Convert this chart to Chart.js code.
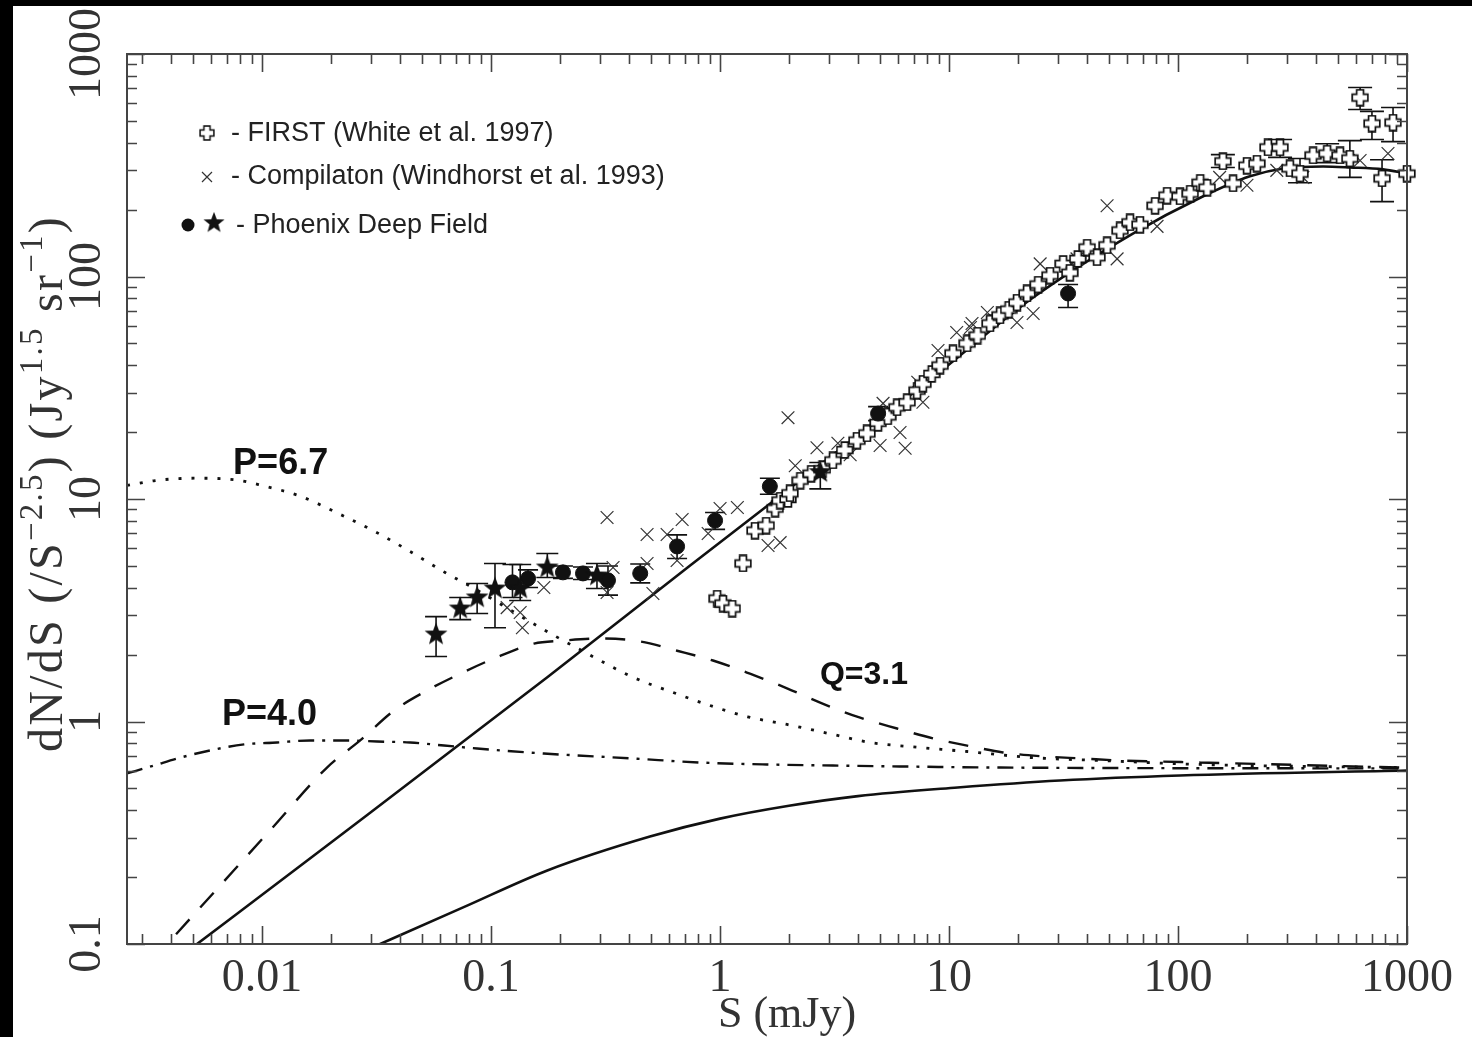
<!DOCTYPE html>
<html>
<head>
<meta charset="utf-8">
<script src="https://cdn.jsdelivr.net/npm/chart.js@4.4.1/dist/chart.umd.min.js"></script>
<style>
  html, body { margin: 0; padding: 0; background: #000; }
  #chart { display: block; }
</style>
</head>
<body>
<canvas id="chart" width="1472" height="1037"></canvas>
<script>
// ---- values ----
const xTickValues = [0.01, 0.1, 1, 10, 100, 1000];
const xTickLabels = ['0.01', '0.1', '1', '10', '100', '1000'];
const yTickValues = [0.1, 1, 10, 100, 1000];
const yTickLabels = ['0.1', '1', '10', '100', '1000'];

// model curves
const totalS = [0.0048, 0.02, 0.176, 0.74, 2.23, 8.5, 23.3, 63.5, 125, 206, 288, 430, 563, 785, 1000];
const totalN = [0.094, 0.286, 1.58, 5.02, 12.1, 35.2, 80.5, 156, 226, 282, 306, 312, 309, 303, 290];

const flatS = [0.025, 0.0755, 0.176, 0.494, 1.0, 2.0, 4.0, 10.9, 30.5, 102, 1000];
const flatN = [0.0885, 0.146, 0.214, 0.304, 0.366, 0.418, 0.462, 0.505, 0.543, 0.572, 0.602];

const q31S = [0.0033, 0.00385, 0.01083, 0.0192, 0.0268, 0.0377, 0.0526, 0.0733, 0.103, 0.154, 0.206, 0.299, 0.448, 0.649, 0.931, 1.35, 1.96, 2.82, 4.09, 5.93, 8.51, 12.7, 17.2, 25.7, 38.5, 55.8, 83.4, 125, 1000];
const q31N = [0.084, 0.1, 0.324, 0.621, 0.822, 1.12, 1.38, 1.64, 1.92, 2.24, 2.31, 2.36, 2.29, 2.08, 1.88, 1.64, 1.41, 1.20, 1.04, 0.93, 0.84, 0.77, 0.726, 0.697, 0.682, 0.668, 0.661, 0.654, 0.62];

const p67S = [0.00257, 0.00341, 0.0051, 0.00762, 0.01, 0.01466, 0.0215, 0.0311, 0.0443, 0.063, 0.0802, 0.164, 0.263, 0.417, 0.624, 0.904, 1.32, 1.96, 3.11, 4.52, 7.47, 12.0, 22.6, 45.6, 125, 1000];
const p67N = [11.5, 12.1, 12.4, 12.2, 11.5, 10.3, 8.61, 7.14, 5.81, 4.67, 4.08, 2.64, 2.02, 1.58, 1.35, 1.18, 1.05, 0.97, 0.875, 0.805, 0.764, 0.733, 0.689, 0.668, 0.641, 0.62];

const p40S = [0.00257, 0.00337, 0.00425, 0.00593, 0.00834, 0.01163, 0.0162, 0.0228, 0.0318, 0.0443, 0.0623, 0.0869, 0.170, 0.417, 0.818, 1.60, 3.11, 6.11, 16.7, 1000];
const p40N = [0.584, 0.634, 0.682, 0.741, 0.789, 0.805, 0.822, 0.822, 0.813, 0.805, 0.780, 0.756, 0.718, 0.682, 0.654, 0.641, 0.634, 0.628, 0.621, 0.615];

// FIRST (White et al. 1997)
const firstS = [0.971, 1.03, 1.13, 1.26, 1.42, 1.59, 1.74, 1.83, 1.98, 2.02, 2.24, 2.5, 2.8, 3.11, 3.5, 3.96, 4.38, 4.9, 5.4, 5.93, 6.56, 7.25, 7.69, 8.4, 9.14, 10.4, 12.0, 13.3, 15.1, 16.7, 18.2, 19.8, 21.9, 24.5, 27.6, 31.5, 33.7, 36.5, 40.1, 44.3, 49.0, 55.8, 61.7, 68.2, 79.4, 89.6, 102, 113, 125, 134, 157, 174, 200, 221, 247, 279, 308, 341, 389, 448, 510, 563, 624, 703, 778, 869, 1000];
const firstN = [3.57, 3.39, 3.22, 5.13, 7.21, 7.6, 9.06, 9.84, 10.0, 10.6, 12.1, 13.0, 13.6, 14.9, 16.6, 18.3, 19.7, 22.0, 23.5, 25.8, 27.2, 30.7, 33.0, 36.5, 39.8, 45.1, 50.0, 54.3, 61.5, 66.8, 71, 76.4, 83.9, 92, 101, 114, 104, 120, 135, 122, 138, 161, 175, 171, 208, 231, 229, 236, 264, 251, 329, 262, 315, 322, 380, 380, 306, 290, 350, 357, 350, 339, 637, 487, 276, 492, 290];
// error bars (low, high) for the FIRST points that carry them, keyed by flux
const firstErrS  = [157, 279, 341, 448, 563, 624, 703, 778, 869];
const firstErrLo = [309, 343, 264, 325, 279, 563, 413, 217, 404];
const firstErrHi = [353, 413, 339, 395, 408, 707, 552, 335, 575];

// Compilation (Windhorst et al. 1993)
const compS = [0.1175, 0.134, 0.137, 0.170, 0.321, 0.321, 0.341, 0.48, 0.48, 0.509, 0.587, 0.649, 0.683, 0.887, 1.0, 1.19, 1.62, 1.83, 1.98, 2.13, 2.65, 3.27, 3.70, 5.0, 5.15, 6.11, 6.43, 7.3, 7.69, 8.95, 10.8, 12.4, 12.6, 14.7, 19.8, 23.3, 25.0, 36.2, 49.0, 54.2, 81.0, 152, 200, 270, 351, 624, 826];
const compN = [3.25, 3.09, 2.64, 4.0, 8.26, 3.80, 4.92, 6.93, 5.13, 3.76, 6.93, 5.29, 8.09, 7.0, 9.06, 9.16, 6.18, 6.37, 23.2, 14.1, 17.0, 17.8, 15.8, 17.4, 26.9, 19.9, 16.9, 33.5, 27.2, 46.5, 56.0, 59.0, 61.5, 68.9, 62.1, 68.2, 114, 120, 208, 120, 168, 279, 257, 300, 279, 332, 357];

// Phoenix Deep Field, filled circles
const pdfCircS  = [0.124, 0.145, 0.206, 0.252, 0.324, 0.448, 0.649, 0.951, 1.65, 4.90, 33.1];
const pdfCircN  = [4.22, 4.39, 4.68, 4.63, 4.31, 4.63, 6.12, 8.0, 11.4, 24.2, 83.9];
const pdfCircLo = [3.61, 4.0, 4.4, 4.35, 3.7, 4.2, 5.4, 7.3, 10.5, 22.5, 72.6];
const pdfCircHi = [5.08, 4.8, 5.0, 4.95, 5.0, 5.1, 6.9, 8.7, 12.4, 26.0, 92];

// Phoenix Deep Field, stars
const pdfStarS  = [0.0575, 0.0733, 0.0869, 0.104, 0.134, 0.176, 0.290, 2.74];
const pdfStarN  = [2.46, 3.22, 3.61, 3.96, 3.96, 4.92, 4.53, 13.2];
const pdfStarLo = [1.96, 2.87, 3.06, 2.64, 3.50, 4.44, 3.96, 11.1];
const pdfStarHi = [2.96, 3.61, 4.17, 5.13, 5.08, 5.69, 5.13, 14.6];

// ---- marker images ----
function plusMarker(size) {
  const c = document.createElement('canvas');
  c.width = c.height = size;
  const g = c.getContext('2d');
  const m = size / 2, a = size * 0.19, L = size / 2 - 1.2;
  g.beginPath();
  g.moveTo(m - a, m - L); g.lineTo(m + a, m - L); g.lineTo(m + a, m - a);
  g.lineTo(m + L, m - a); g.lineTo(m + L, m + a); g.lineTo(m + a, m + a);
  g.lineTo(m + a, m + L); g.lineTo(m - a, m + L); g.lineTo(m - a, m + a);
  g.lineTo(m - L, m + a); g.lineTo(m - L, m - a); g.lineTo(m - a, m - a);
  g.closePath();
  g.fillStyle = '#fff';
  g.fill();
  g.lineWidth = 1.7;
  g.strokeStyle = '#111';
  g.stroke();
  return c;
}

function starMarker(size) {
  const c = document.createElement('canvas');
  c.width = c.height = size;
  const g = c.getContext('2d');
  const m = size / 2, R = size / 2 - 1, r = R * 0.42;
  g.beginPath();
  for (let i = 0; i < 10; i++) {
    const ang = -Math.PI / 2 + i * Math.PI / 5;
    const rad = i % 2 === 0 ? R : r;
    g.lineTo(m + rad * Math.cos(ang), m + rad * Math.sin(ang));
  }
  g.closePath();
  g.fillStyle = '#111';
  g.fill();
  return c;
}

const plusImg = plusMarker(18);
const starImg = starMarker(26);

const pts = (xs, ys) => xs.map((v, i) => ({ x: v, y: ys[i] }));
const ptsErr = (xs, ys, lo, hi) => xs.map((v, i) => ({ x: v, y: ys[i], lo: lo[i], hi: hi[i] }));

const firstPts = firstS.map((v, i) => {
  const k = firstErrS.indexOf(v);
  return k >= 0 ? { x: v, y: firstN[i], lo: firstErrLo[k], hi: firstErrHi[k] } : { x: v, y: firstN[i] };
});

// ---- plugins ----
const background = {
  id: 'background',
  beforeDraw(chart) {
    const { ctx, width, height } = chart;
    ctx.save();
    ctx.fillStyle = '#fff';
    ctx.fillRect(0, 0, width, height);
    ctx.fillStyle = '#000';
    ctx.fillRect(0, 0, 13, height);
    ctx.fillRect(0, 0, width, 6);
    ctx.restore();
  }
};

const errorBars = {
  id: 'errorBars',
  beforeDatasetsDraw(chart) {
    const { ctx, scales: { x, y } } = chart;
    ctx.save();
    ctx.strokeStyle = '#111';
    ctx.lineWidth = 1.6;
    chart.data.datasets.forEach(ds => {
      if (!ds.capHalf) return;
      ds.data.forEach(p => {
        if (p.lo == null) return;
        const px = x.getPixelForValue(p.x);
        const top = y.getPixelForValue(p.hi);
        const bot = y.getPixelForValue(p.lo);
        const w = ds.capHalf;
        ctx.beginPath();
        ctx.moveTo(px, top); ctx.lineTo(px, bot);
        ctx.moveTo(px - w, top); ctx.lineTo(px + w, top);
        ctx.moveTo(px - w, bot); ctx.lineTo(px + w, bot);
        ctx.stroke();
      });
    });
    ctx.restore();
  }
};

function decadeTicks(min, max) {
  const out = [];
  for (let e = Math.floor(Math.log10(min)); e <= Math.ceil(Math.log10(max)); e++) {
    for (let d = 1; d <= 9; d++) {
      const v = d * Math.pow(10, e);
      if (v >= min * 0.999 && v <= max * 1.001) out.push({ v, major: d === 1 });
    }
  }
  return out;
}

const frame = {
  id: 'frame',
  afterDraw(chart) {
    const { ctx, chartArea: a, scales: { x, y } } = chart;
    ctx.save();
    ctx.strokeStyle = '#444';
    ctx.lineWidth = 2;
    ctx.strokeRect(a.left, a.top, a.right - a.left, a.bottom - a.top);
    ctx.lineWidth = 1.6;
    ctx.beginPath();
    decadeTicks(x.min, x.max).forEach(t => {
      const px = Math.round(x.getPixelForValue(t.v)) + 0.5;
      const len = t.major ? 18 : 10;
      ctx.moveTo(px, a.bottom); ctx.lineTo(px, a.bottom - len);
      ctx.moveTo(px, a.top); ctx.lineTo(px, a.top + len);
    });
    decadeTicks(y.min, y.max).forEach(t => {
      const py = Math.round(y.getPixelForValue(t.v)) + 0.5;
      const len = t.major ? 18 : 10;
      ctx.moveTo(a.left, py); ctx.lineTo(a.left + len, py);
      ctx.moveTo(a.right, py); ctx.lineTo(a.right - len, py);
    });
    ctx.stroke();
    ctx.restore();
  }
};

const titles = {
  id: 'titles',
  afterDraw(chart) {
    const { ctx, chartArea: a } = chart;
    ctx.save();
    ctx.fillStyle = '#333';
    ctx.font = '44px "Liberation Serif"';
    ctx.textAlign = 'center';
    ctx.textBaseline = 'alphabetic';
    ctx.fillText('S (mJy)', (a.left + a.right) / 2 + 20, 1027);

    // rotated y title with superscripts, read bottom to top
    const parts = [['dN/dS (/S', 0], ['\u22122.5', 1], [') (Jy', 0], ['1.5', 1], [' sr', 0], ['\u22121', 1], [')', 0]];
    const mainFont = '48px "Liberation Serif"', supFont = '33px "Liberation Serif"';
    let natural = 0, n = 0;
    parts.forEach(([t, s]) => {
      ctx.font = s ? supFont : mainFont;
      natural += ctx.measureText(t).width;
      n += t.length;
    });
    const gap = Math.max(0, (537 - natural) / n);
    ctx.translate(62, 752);
    ctx.rotate(-Math.PI / 2);
    ctx.textAlign = 'left';
    let cx = 0;
    parts.forEach(([t, s]) => {
      ctx.font = s ? supFont : mainFont;
      for (const ch of t) {
        ctx.fillText(ch, cx, s ? -20 : 0);
        cx += ctx.measureText(ch).width + gap;
      }
    });
    ctx.restore();
  }
};

const legendBox = {
  id: 'legendBox',
  afterDraw(chart) {
    const { ctx } = chart;
    ctx.save();
    ctx.drawImage(plusImg, 207 - 8, 133 - 8, 16, 16);
    ctx.strokeStyle = '#333';
    ctx.lineWidth = 1.2;
    ctx.beginPath();
    ctx.moveTo(202, 172); ctx.lineTo(212, 182);
    ctx.moveTo(212, 172); ctx.lineTo(202, 182);
    ctx.stroke();
    ctx.fillStyle = '#111';
    ctx.beginPath();
    ctx.arc(188, 225, 6.5, 0, Math.PI * 2);
    ctx.fill();
    ctx.drawImage(starImg, 214 - 12, 223 - 12, 24, 24);
    ctx.fillStyle = '#222';
    ctx.font = '27px "Liberation Sans"';
    ctx.textBaseline = 'alphabetic';
    ctx.fillText('- FIRST (White et al. 1997)', 231, 141);
    ctx.fillText('- Compilaton (Windhorst et al. 1993)', 231, 184);
    ctx.fillText('- Phoenix Deep Field', 236, 233);
    ctx.restore();
  }
};

const curveLabels = {
  id: 'curveLabels',
  afterDatasetsDraw(chart) {
    const { ctx, scales: { x, y } } = chart;
    const items = chart.options.plugins.curveLabels.items;
    ctx.save();
    ctx.fillStyle = '#111';
    ctx.textBaseline = 'alphabetic';
    items.forEach(it => {
      ctx.font = it.font;
      ctx.fillText(it.text, x.getPixelForValue(it.x), y.getPixelForValue(it.y));
    });
    ctx.restore();
  }
};

// ---- chart ----
const lineBase = { showLine: true, pointRadius: 0, borderColor: '#111', fill: false, cubicInterpolationMode: 'monotone', order: 10 };

new Chart(document.getElementById('chart'), {
  type: 'scatter',
  data: {
    datasets: [
      { label: 'Phoenix stars', data: ptsErr(pdfStarS, pdfStarN, pdfStarLo, pdfStarHi), pointStyle: starImg, pointRadius: 10, capHalf: 11, order: 1, clip: false },
      { label: 'Phoenix circles', data: ptsErr(pdfCircS, pdfCircN, pdfCircLo, pdfCircHi), pointStyle: 'circle', pointRadius: 7.5, backgroundColor: '#111', borderColor: '#111', borderWidth: 1, capHalf: 10, order: 2, clip: false },
      { label: 'FIRST', data: firstPts, pointStyle: plusImg, pointRadius: 9, capHalf: 12, order: 3, clip: false },
      { label: 'Compilation', data: pts(compS, compN), pointStyle: 'crossRot', pointRadius: 9, borderColor: '#333', borderWidth: 1.2, order: 4, clip: false },
      { ...lineBase, label: 'total', data: pts(totalS, totalN), borderWidth: 2.6 },
      { ...lineBase, label: 'flat', data: pts(flatS, flatN), borderWidth: 2.6 },
      { ...lineBase, label: 'Q=3.1', data: pts(q31S, q31N), borderWidth: 2.4, borderDash: [20, 16] },
      { ...lineBase, label: 'P=6.7', data: pts(p67S, p67N), borderWidth: 2.8, borderDash: [3, 10] },
      { ...lineBase, label: 'P=4.0', data: pts(p40S, p40N), borderWidth: 2.4, borderDash: [16, 8, 3, 8] }
    ]
  },
  options: {
    responsive: false,
    animation: false,
    layout: { padding: { left: 0, right: 65, top: 54, bottom: 0 } },
    plugins: {
      legend: { display: false },
      tooltip: { enabled: false },
      curveLabels: {
        items: [
          { text: 'P=6.7', x: 0.00747, y: 13.0, font: 'bold 36px "Liberation Sans"' },
          { text: 'P=4.0', x: 0.00668, y: 0.96, font: 'bold 36px "Liberation Sans"' },
          { text: 'Q=3.1', x: 2.73, y: 1.47, font: 'bold 32px "Liberation Sans"' }
        ]
      }
    },
    scales: {
      x: {
        type: 'logarithmic',
        min: 0.00257,
        max: 1000,
        afterBuildTicks: s => { s.ticks = xTickValues.map(v => ({ value: v, major: true })); },
        afterFit: s => { s.height = 93; s.paddingLeft = 0; s.paddingRight = 0; },
        grid: { display: false, drawTicks: false, tickLength: 0 },
        border: { display: false },
        ticks: {
          autoSkip: false, maxRotation: 0, minRotation: 0, padding: 7,
          color: '#333', font: { family: 'Liberation Serif', size: 46 },
          callback: (v, i) => xTickLabels[i]
        }
      },
      y: {
        type: 'logarithmic',
        min: 0.1,
        max: 1000,
        afterBuildTicks: s => { s.ticks = yTickValues.map(v => ({ value: v, major: true })); },
        afterFit: s => { s.width = 127; s.paddingTop = 0; s.paddingBottom = 0; },
        grid: { display: false, drawTicks: false, tickLength: 0 },
        border: { display: false },
        ticks: {
          autoSkip: false, minRotation: 90, maxRotation: 90, padding: -7, crossAlign: 'center',
          color: '#333', font: { family: 'Liberation Serif', size: 46 },
          callback: (v, i) => yTickLabels[i]
        }
      }
    }
  },
  plugins: [background, errorBars, frame, titles, legendBox, curveLabels]
});
</script>
</body>
</html>
